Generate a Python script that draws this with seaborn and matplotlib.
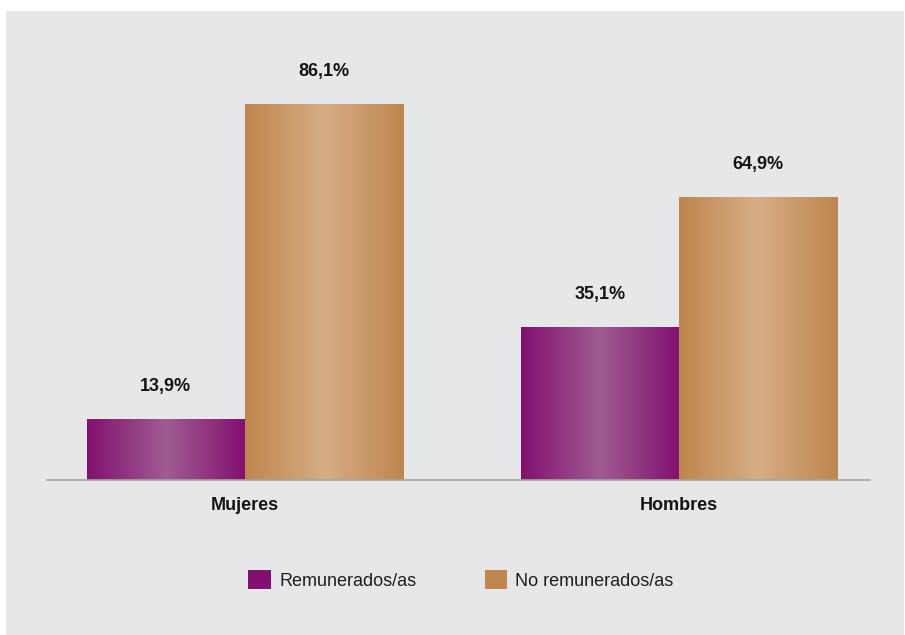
import matplotlib
matplotlib.use("Agg")
import matplotlib.pyplot as plt
from matplotlib.colors import LinearSegmentedColormap
from matplotlib.patches import Rectangle
import numpy as np
import pandas as pd
import seaborn as sns

grupos = ["Mujeres", "Hombres"]
tipos = ["Remunerados/as", "No remunerados/as"]
remunerados = [13.9, 35.1]
no_remunerados = [86.1, 64.9]

df = pd.DataFrame({
    "grupo": grupos * 2,
    "tipo": [tipos[0]] * 2 + [tipos[1]] * 2,
    "valor": remunerados + no_remunerados,
})

sns.set_theme(style="white")
plt.rcParams["font.family"] = ["Liberation Sans", "DejaVu Sans"]

fondo = "#e6e7e9"
borde = {"Remunerados/as": "#83106f", "No remunerados/as": "#be864e"}
centro = {"Remunerados/as": "#9f5c92", "No remunerados/as": "#d6ad85"}

fig = plt.figure(figsize=(9.05, 6.35), dpi=100, facecolor="white")
fig.patches.append(Rectangle((6 / 905, 0), 898 / 905, 624 / 635, transform=fig.transFigure,
                             facecolor=fondo, edgecolor="none", zorder=-10))
ax = fig.add_axes([47 / 905, 155 / 635, 823 / 905, 440 / 635])
ax.set_facecolor("none")

sns.barplot(data=df, x="grupo", y="valor", hue="tipo", order=grupos, hue_order=tipos,
            palette=borde, width=0.73, dodge=True, saturation=1, errorbar=None,
            linewidth=0, ax=ax)

# degradado horizontal en cada barra
for cont, t in zip(ax.containers, tipos):
    cmap = LinearSegmentedColormap.from_list(t, [borde[t], centro[t], borde[t]])
    grad = np.linspace(0, 1, 256).reshape(1, -1)
    for bar in cont:
        x0, w, h = bar.get_x(), bar.get_width(), bar.get_height()
        im = ax.imshow(grad, cmap=cmap, aspect="auto", extent=[x0, x0 + w, 0, h],
                       interpolation="bicubic", zorder=bar.get_zorder() + 0.1)
        im.set_clip_path(bar)
        ax.text(x0 + w / 2, h + 7.4, f"{h:.1f}%".replace(".", ","), ha="center", va="center",
                fontsize=13, fontweight="bold", color="#141414")

ax.set_xlim(-0.456, 1.44)
ax.set_ylim(0, 100.75)
ax.set_xlabel("")
ax.set_ylabel("")
ax.set_yticks([])
ax.tick_params(axis="x", length=0, pad=12)
for lab in ax.get_xticklabels():
    lab.set_fontsize(13)
    lab.set_fontweight("bold")
    lab.set_color("#141414")
for s in ["top", "left", "right"]:
    ax.spines[s].set_visible(False)
ax.spines["bottom"].set_color("#a3a3a5")
ax.spines["bottom"].set_linewidth(1.2)

sns.move_legend(ax, "center", bbox_to_anchor=(461 / 905, 55 / 635), bbox_transform=fig.transFigure,
                ncol=2, frameon=False, title=None, fontsize=13, handlelength=1.25,
                handleheight=1.25, handletextpad=0.45, columnspacing=3.8)
leg = ax.get_legend()
for p in leg.get_patches():
    p.set_edgecolor("none")
for tx in leg.get_texts():
    tx.set_color("#1e1e1e")

fig.savefig("out.png", dpi=100, facecolor=fig.get_facecolor())
